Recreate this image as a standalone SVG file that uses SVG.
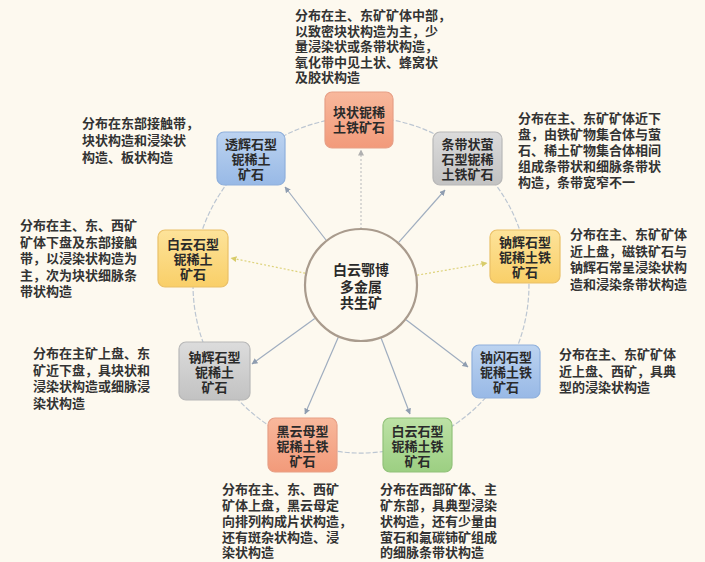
<svg xmlns="http://www.w3.org/2000/svg" width="705" height="562" viewBox="0 0 705 562">
<defs>
<linearGradient id="gSalmon" x1="0" y1="0" x2="0" y2="1"><stop offset="0" stop-color="#f8b89c"/><stop offset="1" stop-color="#f29a7a"/></linearGradient>
<linearGradient id="gBlue" x1="0" y1="0" x2="0" y2="1"><stop offset="0" stop-color="#bcd3f0"/><stop offset="1" stop-color="#98b9e6"/></linearGradient>
<linearGradient id="gGray" x1="0" y1="0" x2="0" y2="1"><stop offset="0" stop-color="#dcdcdc"/><stop offset="1" stop-color="#c2c2c2"/></linearGradient>
<linearGradient id="gYellow" x1="0" y1="0" x2="0" y2="1"><stop offset="0" stop-color="#fde39a"/><stop offset="1" stop-color="#f9cf68"/></linearGradient>
<linearGradient id="gGreen" x1="0" y1="0" x2="0" y2="1"><stop offset="0" stop-color="#bde2a6"/><stop offset="1" stop-color="#9ccf82"/></linearGradient>
<marker id="arr" viewBox="0 0 6 6" refX="5.5" refY="3" markerWidth="6" markerHeight="6" markerUnits="userSpaceOnUse" orient="auto"><path d="M0,0 L6,3 L0,6 z" fill="#8f9db0"/></marker>
<marker id="arrY" viewBox="0 0 6 6" refX="5.5" refY="3" markerWidth="6" markerHeight="6" markerUnits="userSpaceOnUse" orient="auto"><path d="M0,0 L6,3 L0,6 z" fill="#d8cc6a"/></marker>
<marker id="arrL" viewBox="0 0 6 6" refX="5.5" refY="3" markerWidth="6" markerHeight="6" markerUnits="userSpaceOnUse" orient="auto"><path d="M0,0 L6,3 L0,6 z" fill="#b0b0b0"/></marker>
</defs>
<style>
.bg{fill:#fdf9ef}
.box{stroke-width:1.2}
.nt{font-family:"Noto Sans CJK SC","Noto Sans CJK TC",sans-serif;font-size:13px;font-weight:bold;fill:#2a2a2a;text-anchor:middle}
.ct{font-family:"Noto Sans CJK SC",sans-serif;font-size:14px;font-weight:bold;fill:#2a2a2a;text-anchor:middle}
.dt{font-family:"Noto Sans CJK SC","Noto Sans CJK TC",sans-serif;font-size:13px;font-weight:bold;fill:#333333}
.ring{fill:none;stroke:#bcc6d2;stroke-width:1.2;stroke-dasharray:5 2}
.sp{fill:none;stroke:#9fadbf;stroke-width:1.2;marker-end:url(#arr)}
.spy{fill:none;stroke:#ddd27a;stroke-width:1.2;stroke-dasharray:2 2;marker-end:url(#arrY)}
.spl{fill:none;stroke:#c4c4c4;stroke-width:1.2;stroke-dasharray:2 2;marker-end:url(#arrL)}
</style>
<rect class="bg" x="0" y="0" width="705" height="562"/>

<g id="connectors">
<path class="ring" d="M361,117 A168,168 0 0 1 469,156.3"/>
<path class="ring" d="M469,156.3 A168,168 0 0 1 526.4,255.8"/>
<path class="ring" d="M526.4,255.8 A168,168 0 0 1 506.5,369"/>
<path class="ring" d="M506.5,369 A168,168 0 0 1 418.5,442.9"/>
<path class="ring" d="M418.5,442.9 A168,168 0 0 1 303.5,442.9"/>
<path class="ring" d="M303.5,442.9 A168,168 0 0 1 215.5,369"/>
<path class="ring" d="M215.5,369 A168,168 0 0 1 195.6,255.8"/>
<path class="ring" d="M195.6,255.8 A168,168 0 0 1 253,156.3"/>
<path class="ring" d="M253,156.3 A168,168 0 0 1 361,117"/>
<path class="spl" d="M361,229 L361,150"/>
<path class="sp" d="M398.7,242.3 L445,190"/>
<path class="spy" d="M417.2,275.2 L487,263"/>
<path class="sp" d="M406,319.7 L468,367"/>
<path class="sp" d="M381.2,338.3 L410,414"/>
<path class="sp" d="M338.3,337.3 L305,414"/>
<path class="sp" d="M314.8,318.5 L252,364"/>
<path class="spy" d="M305.2,273.2 L231,258"/>
<path class="sp" d="M326,240 L285,187"/>
</g>

<g id="center">
<circle cx="361" cy="285" r="56" fill="#fdf9ef" stroke="#a99b8d" stroke-width="2.2"/>
<text class="ct" x="361" y="275">白云鄂博</text>
<text class="ct" x="361" y="292">多金属</text>
<text class="ct" x="361" y="308">共生矿</text>
</g>

<g id="n-kuaizhuang">
<rect class="box" x="325" y="92" width="68" height="56" rx="7" fill="url(#gSalmon)" stroke="#e79f86"/>
<text class="nt" x="359" y="117">块状铌稀</text>
<text class="nt" x="359" y="132">土铁矿石</text>
</g>

<g id="n-tiaodai">
<rect class="box" x="433" y="132" width="69" height="53" rx="7" fill="url(#gGray)" stroke="#b8b8b8"/>
<text class="nt" x="467.5" y="149">条带状萤</text>
<text class="nt" x="467.5" y="164">石型铌稀</text>
<text class="nt" x="467.5" y="179">土铁矿石</text>
</g>

<g id="n-nahuishi-r">
<rect class="box" x="490" y="230" width="70" height="53" rx="7" fill="url(#gYellow)" stroke="#eac068"/>
<text class="nt" x="525" y="247">钠辉石型</text>
<text class="nt" x="525" y="262">铌稀土铁</text>
<text class="nt" x="525" y="277">矿石</text>
</g>

<g id="n-nashanshi">
<rect class="box" x="472" y="345" width="68" height="53" rx="7" fill="url(#gBlue)" stroke="#8fb0dc"/>
<text class="nt" x="506" y="362">钠闪石型</text>
<text class="nt" x="506" y="377">铌稀土铁</text>
<text class="nt" x="506" y="392">矿石</text>
</g>

<g id="n-baiyunshi-g">
<rect class="box" x="383" y="418" width="69" height="54" rx="7" fill="url(#gGreen)" stroke="#92c27a"/>
<text class="nt" x="417.5" y="435.5">白云石型</text>
<text class="nt" x="417.5" y="450.5">铌稀土铁</text>
<text class="nt" x="417.5" y="465.5">矿石</text>
</g>

<g id="n-heiyunmu">
<rect class="box" x="268" y="418" width="69" height="54" rx="7" fill="url(#gSalmon)" stroke="#e79f86"/>
<text class="nt" x="302.5" y="435.5">黑云母型</text>
<text class="nt" x="302.5" y="450.5">铌稀土铁</text>
<text class="nt" x="302.5" y="465.5">矿石</text>
</g>

<g id="n-nahuishi-l">
<rect class="box" x="179" y="342" width="71" height="58" rx="7" fill="url(#gGray)" stroke="#b8b8b8"/>
<text class="nt" x="214.5" y="361.5">钠辉石型</text>
<text class="nt" x="214.5" y="376.5">铌稀土</text>
<text class="nt" x="214.5" y="391.5">矿石</text>
</g>

<g id="n-baiyunshi-y">
<rect class="box" x="158" y="230" width="70" height="57" rx="7" fill="url(#gYellow)" stroke="#eac068"/>
<text class="nt" x="193" y="249">白云石型</text>
<text class="nt" x="193" y="264">铌稀土</text>
<text class="nt" x="193" y="279">矿石</text>
</g>

<g id="n-touhuishi">
<rect class="box" x="217" y="132" width="68" height="53" rx="7" fill="url(#gBlue)" stroke="#8fb0dc"/>
<text class="nt" x="251" y="149">透辉石型</text>
<text class="nt" x="251" y="164">铌稀土</text>
<text class="nt" x="251" y="179">矿石</text>
</g>

<g id="descriptions">
<text class="dt" x="295" y="20">分布在主、东矿矿体中部，</text>
<text class="dt" x="295" y="35.5">以致密块状构造为主，少</text>
<text class="dt" x="295" y="51">量浸染状或条带状构造，</text>
<text class="dt" x="295" y="66.5">氧化带中见土状、蜂窝状</text>
<text class="dt" x="295" y="82">及胶状构造</text>

<text class="dt" x="518" y="123">分布在主、东矿矿体近下</text>
<text class="dt" x="518" y="139">盘，由铁矿物集合体与萤</text>
<text class="dt" x="518" y="155">石、稀土矿物集合体相间</text>
<text class="dt" x="518" y="171">组成条带状和细脉条带状</text>
<text class="dt" x="518" y="187">构造，条带宽窄不一</text>

<text class="dt" x="82" y="128">分布在东部接触带，</text>
<text class="dt" x="82" y="145">块状构造和浸染状</text>
<text class="dt" x="82" y="162">构造、板状构造</text>

<text class="dt" x="20" y="230">分布在主、东、西矿</text>
<text class="dt" x="20" y="246.5">矿体下盘及东部接触</text>
<text class="dt" x="20" y="263">带，以浸染状构造为</text>
<text class="dt" x="20" y="279.5">主，次为块状细脉条</text>
<text class="dt" x="20" y="296">带状构造</text>

<text class="dt" x="570" y="239">分布在主、东矿矿体</text>
<text class="dt" x="570" y="255.5">近上盘，磁铁矿石与</text>
<text class="dt" x="570" y="272">钠辉石常呈浸染状构</text>
<text class="dt" x="570" y="288.5">造和浸染条带状构造</text>

<text class="dt" x="33" y="358">分布在主矿上盘、东</text>
<text class="dt" x="33" y="374.5">矿近下盘，具块状和</text>
<text class="dt" x="33" y="391">浸染状构造或细脉浸</text>
<text class="dt" x="33" y="407.5">染状构造</text>

<text class="dt" x="559" y="359">分布在主、东矿矿体</text>
<text class="dt" x="559" y="375.5">近上盘、西矿，具典</text>
<text class="dt" x="559" y="392">型的浸染状构造</text>

<text class="dt" x="222" y="494">分布在主、东、西矿</text>
<text class="dt" x="222" y="510">矿体上盘，黑云母定</text>
<text class="dt" x="222" y="526">向排列构成片状构造，</text>
<text class="dt" x="222" y="541.5">还有斑杂状构造、浸</text>
<text class="dt" x="222" y="557">染状构造</text>

<text class="dt" x="380" y="494">分布在西部矿体、主</text>
<text class="dt" x="380" y="510">矿东部，具典型浸染</text>
<text class="dt" x="380" y="526">状构造，还有少量由</text>
<text class="dt" x="380" y="541.5">萤石和氟碳铈矿组成</text>
<text class="dt" x="380" y="557">的细脉条带状构造</text>
</g>
</svg>
